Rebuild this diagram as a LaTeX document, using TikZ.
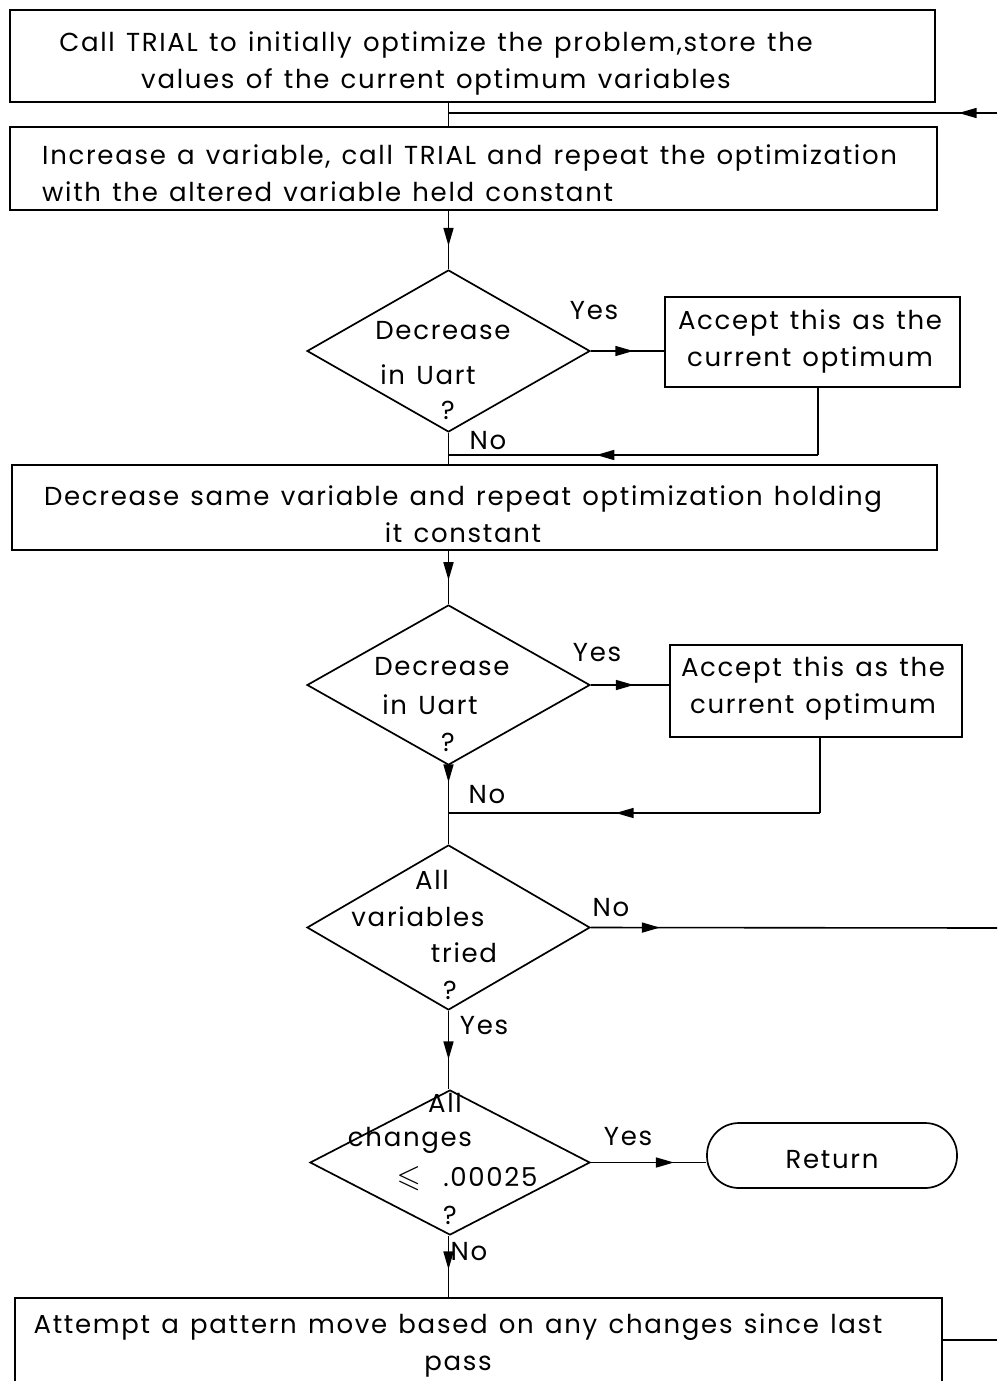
\documentclass[tikz,border=0pt]{standalone}
\usepackage{fontspec}
\usepackage{amssymb}
\setmainfont{Poppins}[LetterSpace=6.5,WordSpace=1.3]
\usetikzlibrary{shapes.geometric,arrows.meta,decorations.markings}

\tikzset{
  box/.style={draw, line width=2pt, rectangle, inner sep=0pt},
  decision/.style={draw, line width=1.7pt, diamond, inner sep=0pt},
  terminal/.style={draw, line width=1.7pt, rectangle, rounded corners=32pt, inner sep=0pt},
  txt/.style={font=\fontsize{26}{37}\selectfont, inner sep=0pt},
  flow/.style={line width=1.6pt},
  arrowat/.style={flow, postaction={decorate}, decoration={markings,
      mark=at position #1 with {\arrow{Triangle[length=18pt,width=10pt]}}}}
}

\begin{document}
\begin{tikzpicture}[x=1pt,y=-1pt]
\useasboundingbox (0,0) rectangle (997,1381);
\fill[white] (0,0) rectangle (997,1381);

% process boxes
\node[box, minimum width=925pt, minimum height=92pt] (b1) at (472.5,56) {};
\node[box, minimum width=927pt, minimum height=83pt] (b2) at (473.5,168.5) {};
\node[box, minimum width=925pt, minimum height=85pt] (b4) at (474.5,507.5) {};
\node[box, minimum width=295pt, minimum height=90pt] (a1) at (812.5,342) {};
\node[box, minimum width=292pt, minimum height=92pt] (a2) at (816,691) {};
\node[box, minimum width=927pt, minimum height=90pt] (b6) at (478.5,1343) {};
\node[terminal, minimum width=250pt, minimum height=65pt] (ret) at (832,1155.5) {};

% decisions
\node[decision, minimum width=283pt, minimum height=162pt] (d1) at (448.5,351) {};
\node[decision, minimum width=283pt, minimum height=160pt] (d2) at (448.5,685) {};
\node[decision, minimum width=283pt, minimum height=165pt] (d3) at (448.5,927.5) {};
\node[decision, minimum width=280pt, minimum height=145pt] (d4) at (450,1162.5) {};

% box texts
\node[txt, align=center] (t1) at (436,63) {Call TRIAL to initially optimize the problem,store the\\values of the current optimum variables};
\node[txt, align=left, anchor=west] (t2) at (42,173) {Increase a variable, call TRIAL and repeat the optimization\\with the altered variable held constant};
\node[txt, align=center] (t4) at (463,514) {Decrease same variable and repeat optimization holding\\it constant};
\node[txt, align=center] (ta1) at (810,341) {Accept this as the\\current optimum};
\node[txt, align=center] (ta2) at (813,688) {Accept this as the\\current optimum};
\node[txt, align=center] (t6) at (458,1345) {Attempt a pattern move based on any changes since last\\pass};
\node[txt] (tr) at (832,1160) {Return};

% decision texts
\node[txt] (d1a) at (443,331) {Decrease};
\node[txt] (d1b) at (428,375) {in Uart};
\node[txt] (d1c) at (448,410) {?};
\node[txt] (d2a) at (442,667) {Decrease};
\node[txt] (d2b) at (430,705) {in Uart};
\node[txt] (d2c) at (448,742) {?};
\node[txt] (d3a) at (432,880) {All};
\node[txt] (d3b) at (418,917) {variables};
\node[txt] (d3c) at (464,953) {tried};
\node[txt] (d3d) at (450,990) {?};
\node[txt] (d4a) at (445,1103) {All};
\node[txt] (d4b) at (410,1140) {changes};
\node[txt] (d4c) at (467,1179) {\scalebox{1.2}{$\leqslant$}\ \ .00025};
\node[txt] (d4d) at (450,1215) {?};

% branch labels
\node[txt] (y1) at (594,311) {Yes};
\node[txt] (n1) at (488,441) {No};
\node[txt] (y2) at (597,653) {Yes};
\node[txt] (n2) at (487,795) {No};
\node[txt] (n3) at (611,908) {No};
\node[txt] (y3) at (484,1026) {Yes};
\node[txt] (y4) at (628,1137) {Yes};
\node[txt] (n4) at (469,1252) {No};

% junction points
\coordinate (retin) at (997,113);
\coordinate (j0) at (448.5,113);
\coordinate (j1) at (448.5,455);
\coordinate (j2) at (448.5,813);
\coordinate (out3) at (997,928);
\coordinate (out6) at (997,1340);

% main flow
\draw[flow] (b1.south -| d1.north) -- (b2.north -| d1.north);
\draw[arrowat=0.07] (retin) -- (j0);
\draw[arrowat=0.6] (b2.south -| d1.north) -- (d1.north);
\draw[arrowat=0.58] (d1.east) -- (d1.east -| a1.west);
\draw[flow] (a1.south -| 818,0) -- (818,455);
\draw[arrowat=0.6] (818,455) -- (j1);
\draw[flow] (d1.south) -- (b4.north -| d1.south);
\draw[arrowat=0.55] (b4.south -| d2.north) -- (d2.north);
\draw[arrowat=0.55] (d2.east) -- (d2.east -| a2.west);
\draw[flow] (a2.south -| 820,0) -- (820,813);
\draw[arrowat=0.55] (820,813) -- (j2);
\draw[arrowat=0.35] (d2.south) -- (j2);
\draw[flow] (j2) -- (d3.north);
\draw[arrowat=0.17] (d3.east) -- (out3);
\draw[arrowat=0.62] (d3.south) -- (d4.north -| d3.south);
\draw[arrowat=0.72] (d4.east) -- (d4.east -| ret.west);
\draw[arrowat=0.55] (d4.south -| d3.south) -- (b6.north -| d3.south);
\draw[flow] (b6.east |- out6) -- (out6);
\end{tikzpicture}
\end{document}
